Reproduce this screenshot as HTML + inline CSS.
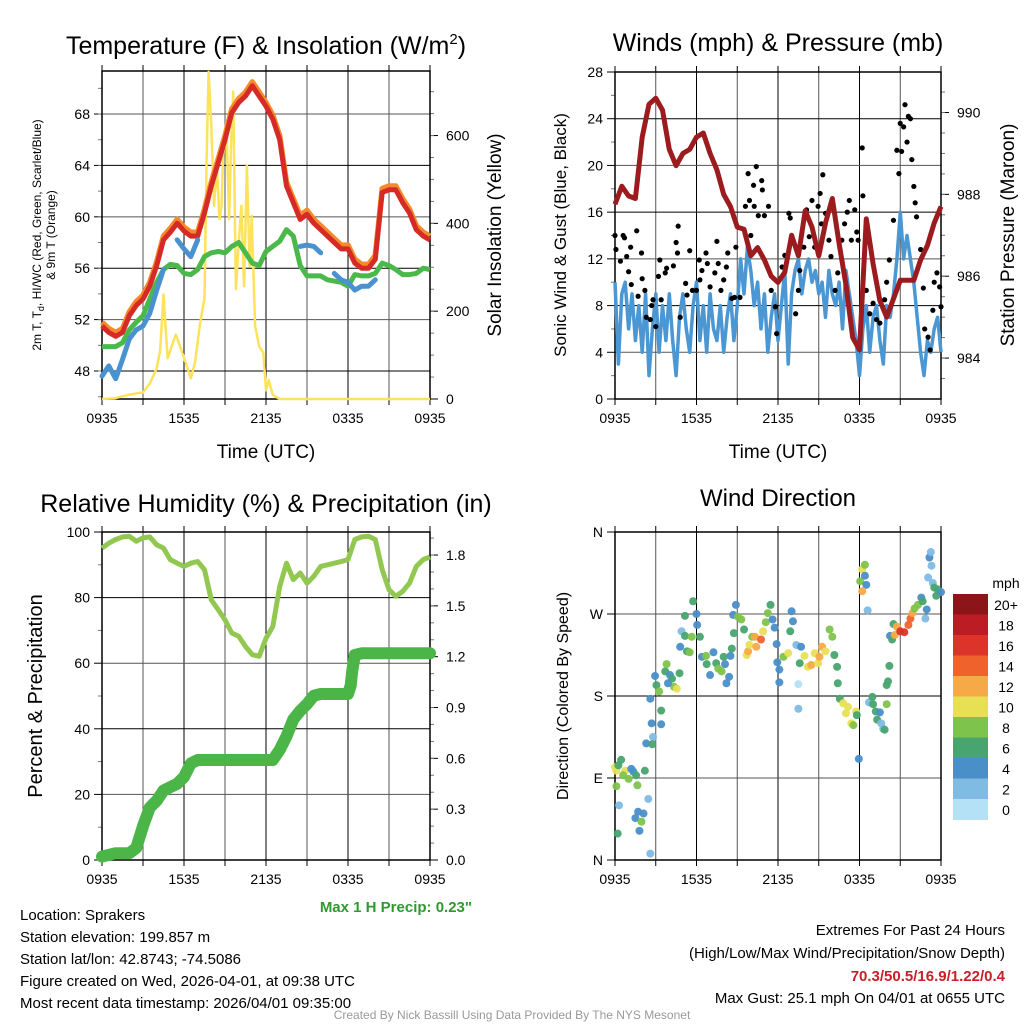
<!DOCTYPE html>
<html><head><meta charset="utf-8"><style>
html,body{margin:0;padding:0;background:#fff;}
svg{display:block;font-family:"Liberation Sans",sans-serif;}
</style></head><body>
<svg id="c" width="1024" height="1024" viewBox="0 0 1024 1024">
<g id="titles" text-anchor="middle" fill="#000">
<text x="266" y="54" font-size="25">Temperature (F) &amp; Insolation (W/m<tspan font-size="15" dy="-10">2</tspan><tspan dy="10">)</tspan></text>
<text x="778" y="51" font-size="25">Winds (mph) &amp; Pressure (mb)</text>
<text x="266" y="512" font-size="25">Relative Humidity (%) &amp; Precipitation (in)</text>
<text x="778" y="506" font-size="24">Wind Direction</text>
<text x="266" y="458" font-size="19">Time (UTC)</text>
<text x="778" y="458" font-size="19">Time (UTC)</text>
<text transform="translate(41,235) rotate(-90)" font-size="12">2m T, T<tspan font-size="9" dy="3">d</tspan><tspan dy="-3">, HI/WC (Red, Green, Scarlet/Blue)</tspan></text>
<text transform="translate(55,235) rotate(-90)" font-size="12">&amp; 9m T (Orange)</text>
<text transform="translate(501,235) rotate(-90)" font-size="19">Solar Insolation (Yellow)</text>
<text transform="translate(566,235) rotate(-90)" font-size="17">Sonic Wind &amp; Gust (Blue, Black)</text>
<text transform="translate(1014,235) rotate(-90)" font-size="19">Station Pressure (Maroon)</text>
<text transform="translate(42,696) rotate(-90)" font-size="20">Percent &amp; Precipitation</text>
<text transform="translate(568,696) rotate(-90)" font-size="16">Direction (Colored By Speed)</text>
</g>
<g id="info" font-size="15" fill="#000">
<text x="20" y="920">Location: Sprakers</text>
<text x="20" y="942">Station elevation: 199.857 m</text>
<text x="20" y="964">Station lat/lon: 42.8743; -74.5086</text>
<text x="20" y="986">Figure created on Wed, 2026-04-01, at 09:38 UTC</text>
<text x="20" y="1008">Most recent data timestamp: 2026/04/01 09:35:00</text>
<text x="472" y="912" text-anchor="end" font-weight="bold" fill="#2e9a2e">Max 1 H Precip: 0.23"</text>
<g text-anchor="end">
<text x="1005" y="935">Extremes For Past 24 Hours</text>
<text x="1005" y="958">(High/Low/Max Wind/Precipitation/Snow Depth)</text>
<text x="1005" y="981" font-weight="bold" fill="#c8202a">70.3/50.5/16.9/1.22/0.4</text>
<text x="1005" y="1003">Max Gust: 25.1 mph On 04/01 at 0655 UTC</text>
</g>
<text x="512" y="1019" text-anchor="middle" font-size="12" fill="#999">Created By Nick Bassill Using Data Provided By The NYS Mesonet</text>
</g>
</svg>
<script>
// ---------- DATA ----------
const xTickLabels = ["0935","1535","2135","0335","0935"];
const halfHours = [0,0.5,1,1.5,2,2.5,3,3.5,4,4.5,5,5.5,6,6.5,7,7.5,8,8.5,9,9.5,10,10.5,11,11.5,12,12.5,13,13.5,14,14.5,15,15.5,16,16.5,17,17.5,18,18.5,19,19.5,20,20.5,21,21.5,22,22.5,23,23.5,24];
const temp2m = [51.5,51.0,50.7,51.0,52.3,53.1,53.6,54.6,56.2,58.2,58.8,59.5,58.9,58.5,58.5,60.3,62.4,64.2,66.0,68.1,68.9,69.4,70.2,69.4,68.6,67.6,66.0,62.4,61.1,59.8,60.2,59.5,59.0,58.5,58.0,57.5,57.5,56.4,56.0,56.0,56.7,61.9,62.1,62.1,61.1,60.3,59.0,58.5,58.2];
const temp9m = [51.8,51.3,51.0,51.3,52.6,53.4,53.9,54.9,56.5,58.5,59.1,59.8,59.2,58.8,58.8,60.6,62.7,64.5,66.3,68.4,69.2,69.7,70.5,69.7,68.9,67.9,66.3,62.7,61.4,60.1,60.5,59.8,59.3,58.8,58.3,57.8,57.8,56.7,56.3,56.3,57.0,62.2,62.4,62.4,61.4,60.6,59.3,58.8,58.5];
const dewpt = [49.9,49.9,49.9,50.2,51.2,51.8,52.3,53.6,54.9,55.9,56.3,56.2,55.6,55.5,55.9,56.9,57.2,57.3,57.2,57.7,58.0,57.2,56.4,56.2,57.3,57.7,58.1,59.0,58.5,56.2,55.4,55.4,55.4,55.1,55.0,54.9,54.6,55.5,55.4,55.4,55.6,56.4,56.2,55.9,55.5,55.5,55.6,56.0,55.9];
const windChill = [47.6,48.4,47.4,48.9,50.5,51.2,51.5,52.5,54.3,55.9,null,58.2,57.5,56.9,58.2,null,null,null,null,null,null,null,null,null,null,null,null,null,null,57.7,57.8,57.7,57.2,null,55.6,55.1,54.9,54.3,54.6,54.6,55.1,null,null,null,null,null,null,null,null];
const solarHours = [0,1,2,3,3.5,4,4.25,4.5,4.8,5.4,5.8,6.3,6.5,6.8,7.15,7.5,7.65,7.8,8.0,8.2,8.4,8.6,8.75,8.85,9.1,9.3,9.45,9.6,9.8,10.0,10.2,10.4,10.6,10.8,10.95,11.2,11.5,11.8,12.0,12.2,12.5,13,24];
const solarValues = [0,2,10,15,35,70,110,238,93,147,112,66,47,82,166,230,547,745,623,440,532,410,440,547,631,410,585,700,250,356,440,257,532,303,417,166,120,105,20,43,9,0,0];
const windHours = [0,0.25,0.5,0.75,1,1.25,1.5,1.75,2,2.25,2.5,2.75,3,3.25,3.5,3.75,4,4.25,4.5,4.75,5,5.25,5.5,5.75,6,6.25,6.5,6.75,7,7.25,7.5,7.75,8,8.25,8.5,8.75,9,9.25,9.5,9.75,10,10.25,10.5,10.75,11,11.25,11.5,11.75,12,12.25,12.5,12.75,13,13.25,13.5,13.75,14,14.25,14.5,14.75,15,15.25,15.5,15.75,16,16.25,16.5,16.75,17,17.25,17.5,17.75,18,18.25,18.5,18.75,19,19.25,19.5,19.75,20,20.25,20.5,20.75,21,21.25,21.5,21.75,22,22.25,22.5,22.75,23,23.25,23.5,23.75,24];
const windSpeed = [10,3,9,10,6,9,5,8,4,9,2,6,9,4,8,5,9,5,2,7,9,6,4,8,10,5,8,4,9,6,5,8,4,7,9,5,8,12,9,13,11,8,10,6,9,4,7,9,5,8,11,3,9,11,12,9,11,12,10,11,9,10,7,11,9,8,10,6,11,9,7,5,2,6,8,4,7,8,5,3,8,7,9,12,16,12,14,12,10,7,4,2,5,4,6,7,4];
const gustHours = [0,0.07,0.4,0.6,0.7,0.86,1,1.15,1.2,1.6,1.7,1.95,2,2.2,2.3,2.6,2.7,2.8,3,3.2,3.3,3.4,3.7,3.8,4.3,4.5,4.6,4.65,4.8,5.2,5.3,5.5,5.7,6,6.2,6.25,6.4,6.7,6.8,7,7.35,7.5,7.6,7.8,8,8.2,8.3,8.6,8.8,8.9,9.2,9.6,9.8,9.9,10,10.2,10.25,10.4,10.55,10.8,10.85,11,11.3,11.5,11.8,11.9,12.3,12.5,12.8,12.9,13.3,13.5,13.6,13.9,14.1,14.3,14.5,14.7,14.95,15.1,15.2,15.3,15.5,15.75,15.9,16.2,16.4,16.7,16.9,17.1,17.25,17.4,17.65,17.8,17.9,18.2,18.25,18.5,18.75,19,19.25,19.5,19.85,20,20.2,20.5,20.75,20.9,21,21.1,21.25,21.35,21.5,21.6,21.75,21.85,22,22.1,22.2,22.5,22.7,22.8,23.05,23.2,23.4,23.5,23.7,23.9,24];
const gustSpeed = [14,12.8,11.8,14,13.8,12.2,10.9,13,9.8,14.4,8.8,12.5,10.3,9.3,7,6.8,8,8.5,6.2,10.5,11.9,8.5,10.8,11.2,11.4,13.4,12.5,14.8,7,9.9,8.9,12.7,9.3,9.3,11.9,10.2,11,12.5,11.6,9.6,10.8,13.5,11.6,9.3,10.2,11.3,12.5,8.6,8.7,13,8.7,16.5,19.3,17,14,18.3,16.5,19.9,15.7,18.7,17.9,15.7,16.5,9.3,7.9,5.6,11.3,12.3,15.9,15.5,7.3,9.3,11,13,16.2,13.9,17,13,16.5,17.6,15,19.2,15.9,13.6,12.2,9.3,10.8,13.6,15,16,17,13.6,16.2,14.3,13.6,21.5,17.4,9.3,7.3,8.2,6.8,6.5,8.5,10,11.9,15.3,21.3,19.3,23.6,21.2,23.3,25.2,22,24.2,24,20.5,18.2,16.8,15.6,12.8,9.5,6,5.3,4.2,7.6,10,10.8,9.6,7.9];
const pressure = [987.76,988.2,987.96,987.9,989.4,990.2,990.35,990.06,989.1,988.7,989.0,989.1,989.4,989.5,989.0,988.6,988.0,987.7,987.2,987.15,986.5,986.7,986.4,986.0,985.85,986.1,987.0,986.5,987.6,987.2,986.5,987.3,987.9,986.8,985.8,984.5,984.2,987.4,986.3,985.4,985.0,985.45,985.9,985.9,985.9,986.4,986.75,987.3,987.7];
const rh = [95.1,96.6,97.7,98.5,98.7,97.2,98.2,98.5,96.1,95.1,91.6,90.5,89.5,90.5,91,88.5,79.3,76.3,73.2,69.2,68.2,65.1,62.6,62.1,67.6,71.2,83.4,90.5,85.5,87.5,84.4,86.5,89.5,90,90.5,91,91.6,97.7,98.5,98.7,97.7,88.5,82.4,80.4,81.9,84.4,89.5,91.6,92.4];
const precipHours = [0,1,2,2.5,3,3.5,4,4.5,5,5.5,6,6.5,7,12.5,13,13.5,14,14.5,15,15.5,16,18,18.2,18.3,18.5,19,24];
const precipValues = [0.02,0.04,0.04,0.07,0.2,0.31,0.35,0.41,0.43,0.45,0.49,0.57,0.59,0.59,0.65,0.73,0.83,0.88,0.92,0.97,0.98,0.98,1.03,1.11,1.21,1.22,1.22];
const dirHours = [0,0.1,0.45,0.25,0.75,0.6,1,1.2,1.35,1.55,1.65,0.1,0.3,0.2,1.5,1.7,2.1,1.95,1.8,2.45,2.6,2.2,2.3,2.8,2.75,2.7,3.4,3.4,2.6,2.95,3.05,3.25,3.7,3.8,4.05,4.2,4.35,4.55,4.75,3.9,4.8,4.9,5.15,5.3,5.5,5.15,5.75,6,6.05,5.65,6.25,6.4,6.7,6.75,7,7.25,7.45,7.6,7.85,8,8.1,8.2,8.4,8.5,8.6,8.75,8.7,8.9,9.05,9.3,9.5,9.7,9.8,9.9,10.1,10.3,10.4,10.75,10.9,11.1,11.25,11.45,11.6,11.75,11.9,11.95,12.1,12.1,12.4,12.75,13,13.1,12.9,13.35,13.5,13.5,13.6,13.7,13.95,14.2,14.45,14.7,14.95,15.05,15.25,15.5,15.8,16,16.15,16.35,16.4,16.55,16.8,17,17.15,17.4,17.55,17.75,17.8,17.95,18.05,18.2,18.4,18.4,18.5,18.2,18.6,18.7,18.95,19,19.2,19.5,19.3,19.6,19.75,19.85,20,20,20.1,20.2,20.25,20.4,20.5,20.6,20.75,21,21.3,21.6,21.75,21.9,22.05,22.3,22.55,22.65,22.85,22.95,23.05,23.15,23.25,23.3,23.4,23.5,23.65,23.75,24];
const dirDegrees = [102,98,110,104,98,93,89,100,97,93,82,81,60,29,46,53,51,42,32,67,7,98,128,135,127,150,149,164,177,202,192,185,207,215,203,199,190,188,205,194,234,251,246,229,228,268,284,270,258,245,245,223,224,215,203,228,216,210,207,223,215,194,201,224,232,249,269,280,267,264,253,225,229,236,245,245,234,242,251,261,271,280,264,255,237,217,209,195,223,227,273,262,251,236,193,166,216,234,224,212,214,227,216,223,234,229,253,245,225,212,194,177,172,161,168,150,148,163,159,111,306,319,324,312,302,295,274,173,179,171,163,162,154,150,144,143,171,192,196,213,246,242,259,247,256,251,250,258,265,271,276,280,288,284,265,275,310,332,338,323,304,299,290,297,294];
const dirSpeed = [10,10,6,6,10,8,8,4,4,6,8,8,2,6,4,4,4,8,4,2,2,6,4,2,6,4,4,6,4,4,6,8,6,8,4,6,8,10,6,4,4,2,6,6,8,6,6,4,4,8,6,4,8,6,4,4,6,8,8,6,4,4,4,4,6,6,4,4,8,8,6,10,12,10,8,12,12,14,10,8,8,6,4,4,4,4,4,4,8,10,4,4,6,2,0,2,6,4,10,10,12,10,10,12,12,10,8,8,6,6,6,6,10,10,10,10,8,10,6,4,8,10,8,4,4,12,2,2,6,6,6,4,6,2,2,6,8,6,6,6,4,6,6,12,12,16,16,14,14,12,8,8,4,6,2,4,2,4,2,2,2,6,6,6,4];
const colorbarLabels = ["20+","18","16","14","12","10","8","6","4","2","0"];
const speedColors = ["#b4e1f6","#80bbe4","#4a8fc7","#48a56f","#7ec34b","#e7e055","#f6aa47","#f0622c","#dc3429","#bc1c23","#8c1519"];

// ---------- HELPERS ----------
const NS = "http://www.w3.org/2000/svg";
const svg = document.getElementById("c");
function mk(tag, attrs, parent) {
  const e = document.createElementNS(NS, tag);
  for (const k in attrs) e.setAttribute(k, attrs[k]);
  (parent || svg).appendChild(e);
  return e;
}
function scale(d0, d1, r0, r1) { return v => r0 + (v - d0) / (d1 - d0) * (r1 - r0); }
function pathFrom(xs, ys, fx, fy) {
  let d = "", pen = false;
  for (let i = 0; i < xs.length; i++) {
    if (ys[i] === null || ys[i] === undefined) { pen = false; continue; }
    d += (pen ? "L" : "M") + fx(xs[i]).toFixed(1) + "," + fy(ys[i]).toFixed(1);
    pen = true;
  }
  return d;
}

function frame(P, name) {
  const g = mk("g", {});
  
  
  const fx = scale(0, 24, P.x0, P.x1);
  for (let h = 0; h <= 24; h += 3) {
    const x = fx(h);
    const l = mk("line", {x1:x, x2:x, y1:P.y0, y2:P.y1, stroke: h % 6 ? "#555" : "#000", "stroke-width":1}, g);
    
    
    mk("line", {x1:x, x2:x, y1:P.y1, y2:P.y1+6, stroke:"#000"}, g);
    mk("line", {x1:x, x2:x, y1:P.y0, y2:P.y0-6, stroke:"#000"}, g);
  }
  xTickLabels.forEach((t, i) => {
    const tx = mk("text", {x: fx(i*6), y: P.y1 + 24, "text-anchor":"middle", "font-size":14}, g);
    tx.textContent = t;
    
    
  });
  return {g, fx};
}
function leftAxis(P, g, lo, hi, ticks, labels, minor) {
  const fy = scale(lo, hi, P.y1, P.y0);
  ticks.forEach((v, i) => {
    const y = fy(v);
    const l = mk("line", {x1:P.x0, x2:P.x1, y1:y, y2:y, stroke: i % 2 ? "#555" : "#000"}, g);
    
    
    mk("line", {x1:P.x0-8, x2:P.x0, y1:y, y2:y, stroke:"#000"}, g);
    const t = mk("text", {x:P.x0-12, y:y+5, "text-anchor":"end", "font-size":14}, g);
    t.textContent = labels[i];
    
    
  });
  (minor || []).forEach(v => { const y = fy(v); mk("line", {x1:P.x0-4, x2:P.x0, y1:y, y2:y, stroke:"#777"}, g); });
  return fy;
}
function rightAxis(P, g, lo, hi, ticks, labels, minor) {
  const fy = scale(lo, hi, P.y1, P.y0);
  ticks.forEach((v, i) => {
    const y = fy(v);
    mk("line", {x1:P.x1, x2:P.x1+8, y1:y, y2:y, stroke:"#000"}, g);
    const t = mk("text", {x:P.x1+16, y:y+5, "text-anchor":"start", "font-size":14}, g);
    t.textContent = labels[i];
    
    
  });
  (minor || []).forEach(v => { const y = fy(v); mk("line", {x1:P.x1, x2:P.x1+4, y1:y, y2:y, stroke:"#777"}, g); });
  return fy;
}
function border(P, g) {
  mk("rect", {x:P.x0, y:P.y0, width:P.x1-P.x0, height:P.y1-P.y0, fill:"none", stroke:"#000", "stroke-width":1.5}, g);
}
function range(a, b, s) { const r = []; for (let v = a; v <= b + 1e-9; v += s) r.push(+v.toFixed(4)); return r; }

// ---------- PANEL 1 ----------
(function(){
  const P = {x0:102, x1:430, y0:71, y1:399};
  const {g, fx} = frame(P, "temperature");
  const fy = leftAxis(P, g, 45.82, 71.35, [48,52,56,60,64,68], ["48","52","56","60","64","68"], range(46,70,2));
  const fy2 = rightAxis(P, g, 0, 747, [0,200,400,600], ["0","200","400","600"], range(50,700,50));
  const ins = mk("path", {d: pathFrom(solarHours, solarValues, fx, fy2), fill:"none", stroke:"#fde35c", "stroke-width":2.5, "stroke-linejoin":"round"});
  
  
  const o = mk("path", {d: pathFrom(halfHours, temp9m, fx, fy), fill:"none", stroke:"#f58a2c", "stroke-width":5.5, "stroke-linejoin":"round"});
  
  
  const r = mk("path", {d: pathFrom(halfHours, temp2m, fx, fy), fill:"none", stroke:"#d62a26", "stroke-width":5, "stroke-linejoin":"round"});
  
  
  const gr = mk("path", {d: pathFrom(halfHours, dewpt, fx, fy), fill:"none", stroke:"#4bb84a", "stroke-width":5, "stroke-linejoin":"round"});
  
  
  const b = mk("path", {d: pathFrom(halfHours, windChill, fx, fy), fill:"none", stroke:"#4a92cf", "stroke-width":5, "stroke-linejoin":"round", "stroke-linecap":"round"});
  
  
  border(P, g);
})();

// ---------- PANEL 2 ----------
(function(){
  const P = {x0:615, x1:941, y0:72, y1:399};
  const {g, fx} = frame(P, "winds");
  const fy = leftAxis(P, g, 0, 28, range(0,28,4), range(0,28,4).map(String), range(2,26,4));
  const fy2 = rightAxis(P, g, 983.0, 990.99, [984,986,988,990], ["984","986","988","990"], range(983.5,990.5,0.5));
  const w = mk("path", {d: pathFrom(windHours, windSpeed, fx, fy), fill:"none", stroke:"#4a97d3", "stroke-width":3.5, "stroke-linejoin":"round"});
  
  
  const gg = mk("g", {});
  
  
  gustHours.forEach((h, i) => {
    const c = mk("circle", {cx: fx(h), cy: fy(gustSpeed[i]), r: 2.6, fill:"#000"}, gg);
    
    
  });
  const p = mk("path", {d: pathFrom(halfHours, pressure, fx, fy2), fill:"none", stroke:"#9b1b1e", "stroke-width":5, "stroke-linejoin":"round"});
  
  
  border(P, g);
})();

// ---------- PANEL 3 ----------
(function(){
  const P = {x0:102, x1:430, y0:532, y1:860};
  const {g, fx} = frame(P, "humidity");
  const fy = leftAxis(P, g, 0, 100, range(0,100,20), range(0,100,20).map(String), range(10,90,20));
  const fy2 = rightAxis(P, g, 0, 1.936, range(0,1.8,0.3), range(0,1.8,0.3).map(v=>v.toFixed(1)), range(0.1,1.9,0.1));
  const pr = mk("path", {d: pathFrom(precipHours, precipValues, fx, fy2), fill:"none", stroke:"#4bb548", "stroke-width":12, "stroke-linejoin":"round", "stroke-linecap":"round"});
  
  
  const h = mk("path", {d: pathFrom(halfHours, rh, fx, fy), fill:"none", stroke:"#92c851", "stroke-width":5, "stroke-linejoin":"round"});
  
  
  border(P, g);
})();

// ---------- PANEL 4 ----------
(function(){
  const P = {x0:615, x1:941, y0:532, y1:860};
  const {g, fx} = frame(P, "direction");
  const fy = leftAxis(P, g, 0, 360, [0,90,180,270,360], ["N","E","S","W","N"], []);
  const dg = mk("g", {});
  
  
  dirHours.forEach((h, i) => {
    const bin = Math.min(10, Math.floor(dirSpeed[i] / 2));
    const c = mk("circle", {cx: fx(h), cy: fy(dirDegrees[i]), r: 4, fill: speedColors[bin], "fill-opacity":0.95}, dg);
    
    
  });
  border(P, g);
  const cb = mk("g", {});
  
  
  const bh = 20.5, bx = 953, by = 594;
  colorbarLabels.forEach((lab, i) => {
    const r = mk("rect", {x:bx, y:by + i*bh, width:35, height:bh+0.5, fill: speedColors[10-i]}, cb);
    
    
    const t = mk("text", {x:1006, y: by + i*bh + 16, "text-anchor":"middle", "font-size":14}, cb);
    t.textContent = lab;
    
    
  });
  const u = mk("text", {x:1006, y:588, "text-anchor":"middle", "font-size":14}, cb);
  u.textContent = "mph";
  
  
})();
</script>
</body></html>
